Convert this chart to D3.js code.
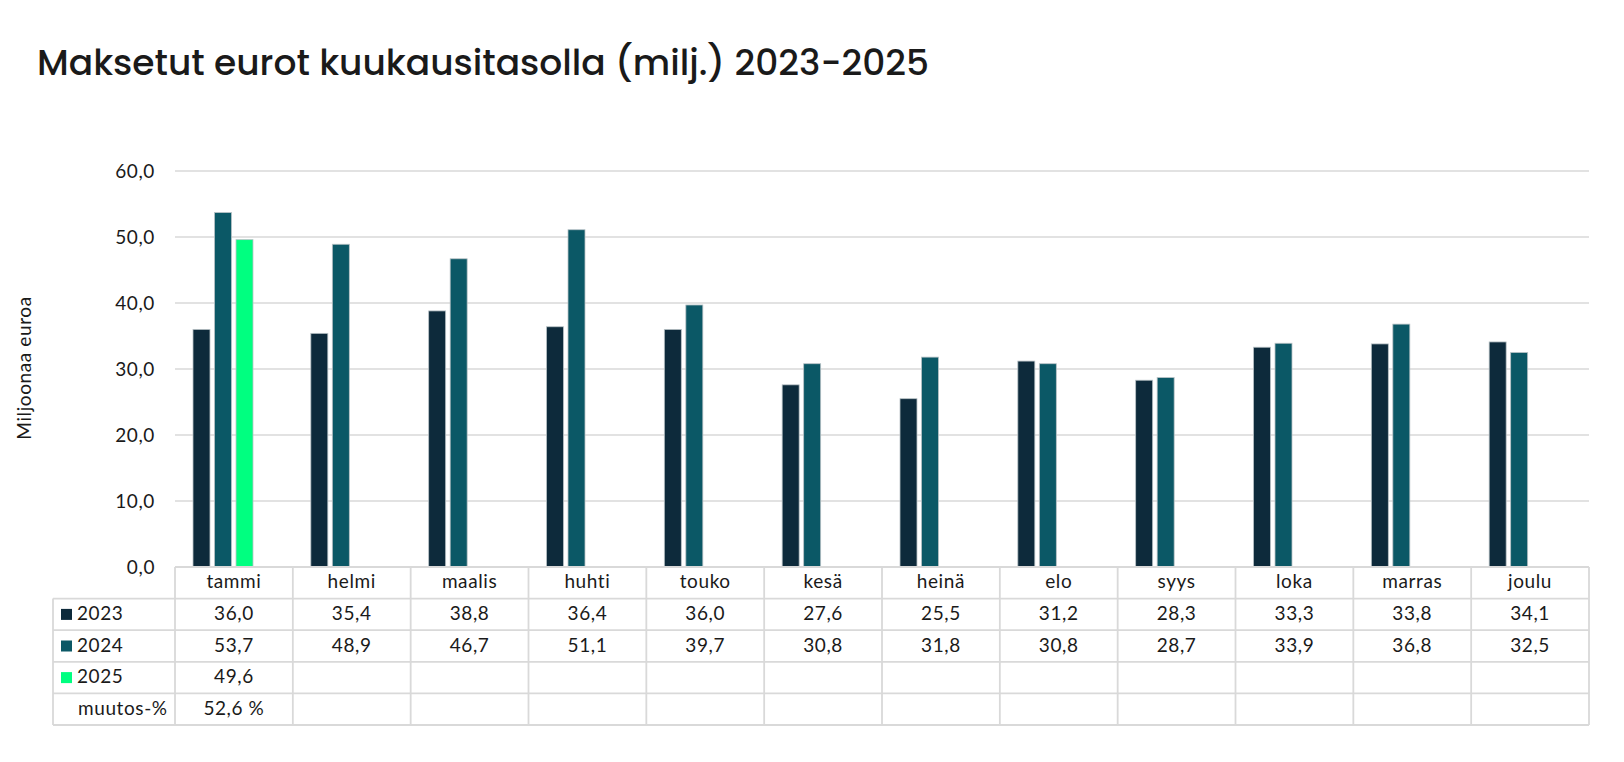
<!DOCTYPE html>
<html>
<head>
  <meta charset="UTF-8">
  <title>Maksetut eurot kuukausitasolla</title>
  <script src="https://cdn.jsdelivr.net/npm/d3@7"></script>
  <style>
    body { margin: 0; background: #fff; }
    svg text { font-family: Lato, "Noto Sans", sans-serif; font-weight: 400; fill: #1a1a1a; letter-spacing: 0.6px; }
    #title { font-family: Poppins, Inter, "Noto Sans", sans-serif; font-weight: 500; fill: #1a1a1a; letter-spacing: 0; }
  </style>
</head>
<body>
  <svg id="chart" width="1624" height="762"></svg>
  <script>
  // data
  var months = ["tammi", "helmi", "maalis", "huhti", "touko", "kesä", "heinä", "elo", "syys", "loka", "marras", "joulu"]
  var years = ["2023", "2024", "2025"]
  var v2023 = [36.0, 35.4, 38.8, 36.4, 36.0, 27.6, 25.5, 31.2, 28.3, 33.3, 33.8, 34.1]
  var v2024 = [53.7, 48.9, 46.7, 51.1, 39.7, 30.8, 31.8, 30.8, 28.7, 33.9, 36.8, 32.5]
  var v2025 = [49.6]
  var muutos = ["52,6 %"]
  var yTicks = [0, 10, 20, 30, 40, 50, 60]
  var colors = { "2023": "#0d2a3b", "2024": "#0b5866", "2025": "#00ff80" }

  var series = { "2023": v2023, "2024": v2024, "2025": v2025 }
  var fi = d3.formatLocale({ decimal: ",", thousands: " ", grouping: [3], currency: ["", " €"] })
  var fmt = fi.format(".1f")

  var svg = d3.select("#chart")
  var plotLeft = 175, plotRight = 1589, plotTop = 171, base = 567
  var rowH = 31.6, tableLeft = 53

  var x = d3.scaleBand().domain(months).range([plotLeft, plotRight])
  var x1 = d3.scaleBand().domain(years).range([18, 78]).paddingInner(0.21)
  var y = d3.scaleLinear().domain([0, 60]).range([base, plotTop])

  svg.append("text")
    .attr("id", "title")
    .attr("x", 37).attr("y", 75)
    .style("font-size", "36px")
    .text("Maksetut eurot kuukausitasolla (milj.) 2023-2025")

  // gridlines
  svg.append("g").selectAll("line")
    .data(yTicks.filter(function (d) { return d > 0 }))
    .enter().append("line")
    .attr("x1", plotLeft).attr("x2", plotRight)
    .attr("y1", function (d) { return y(d) }).attr("y2", function (d) { return y(d) })
    .attr("stroke", "#d9d9d9").attr("stroke-width", 1.5)

  // y axis labels
  var yAxis = svg.append("g")
    .attr("transform", "translate(" + (plotLeft - 20) + ",0)")
    .call(d3.axisLeft(y).tickValues(yTicks).tickSize(0).tickFormat(fmt))
  yAxis.select(".domain").remove()
  yAxis.selectAll("text")
    .attr("x", 0)
    .style("font-size", "19px")
    .style("font-family", "Lato, sans-serif")
    .attr("fill", "#1a1a1a")

  svg.append("text")
    .attr("transform", "translate(31,368) rotate(-90)")
    .attr("text-anchor", "middle")
    .style("font-size", "19px")
    .text("Miljoonaa euroa")

  // bars
  var bars = []
  years.forEach(function (yr) {
    series[yr].forEach(function (v, i) {
      bars.push({ year: yr, month: months[i], value: v })
    })
  })
  svg.append("g").selectAll("rect")
    .data(bars)
    .enter().append("rect")
    .attr("x", function (d) { return x(d.month) + x1(d.year) })
    .attr("width", x1.bandwidth())
    .attr("y", function (d) { return y(d.value) })
    .attr("height", function (d) { return base - y(d.value) })
    .attr("fill", function (d) { return colors[d.year] })
    .attr("stroke", "#b9c2c6").attr("stroke-width", 0.8)

  // data table
  var table = svg.append("g")
  var grid = "#d9d9d9"
  var rows = [
    { label: "2023", key: "2023", cells: v2023.map(fmt) },
    { label: "2024", key: "2024", cells: v2024.map(fmt) },
    { label: "2025", key: "2025", cells: v2025.map(fmt) },
    { label: "muutos-%", key: null, cells: muutos }
  ]

  // horizontal lines
  table.append("line")
    .attr("x1", plotLeft).attr("x2", plotRight)
    .attr("y1", base).attr("y2", base)
    .attr("stroke", grid).attr("stroke-width", 1.8)
  d3.range(1, 6).forEach(function (r) {
    table.append("line")
      .attr("x1", tableLeft).attr("x2", plotRight)
      .attr("y1", base + r * rowH).attr("y2", base + r * rowH)
      .attr("stroke", grid).attr("stroke-width", 1.8)
  })
  // vertical lines
  table.append("line")
    .attr("x1", tableLeft).attr("x2", tableLeft)
    .attr("y1", base + rowH).attr("y2", base + 5 * rowH)
    .attr("stroke", grid).attr("stroke-width", 1.8)
  months.concat(["end"]).forEach(function (m, i) {
    var xx = plotLeft + i * x.bandwidth()
    table.append("line")
      .attr("x1", xx).attr("x2", xx)
      .attr("y1", base).attr("y2", base + 5 * rowH)
      .attr("stroke", grid).attr("stroke-width", 1.8)
  })

  // month names
  table.selectAll(".month")
    .data(months)
    .enter().append("text")
    .attr("class", "month")
    .attr("x", function (d) { return x(d) + x.bandwidth() / 2 })
    .attr("y", base + 20.5)
    .attr("text-anchor", "middle")
    .style("font-size", "19px")
    .text(function (d) { return d })

  rows.forEach(function (row, r) {
    var ry = base + (r + 1) * rowH
    if (row.key) {
      table.append("rect")
        .attr("x", 61).attr("y", ry + rowH / 2 - 5.5)
        .attr("width", 11).attr("height", 11)
        .attr("fill", colors[row.key])
    }
    table.append("text")
      .attr("x", row.key ? 77 : 78)
      .attr("y", ry + 21.5)
      .style("font-size", "19px")
      .text(row.label)
    table.selectAll(".c" + r)
      .data(row.cells)
      .enter().append("text")
      .attr("class", "c" + r)
      .attr("x", function (d, i) { return x(months[i]) + x.bandwidth() / 2 })
      .attr("y", ry + 21.5)
      .attr("text-anchor", "middle")
      .style("font-size", "19px")
      .text(function (d) { return d })
  })
  </script>
</body>
</html>
